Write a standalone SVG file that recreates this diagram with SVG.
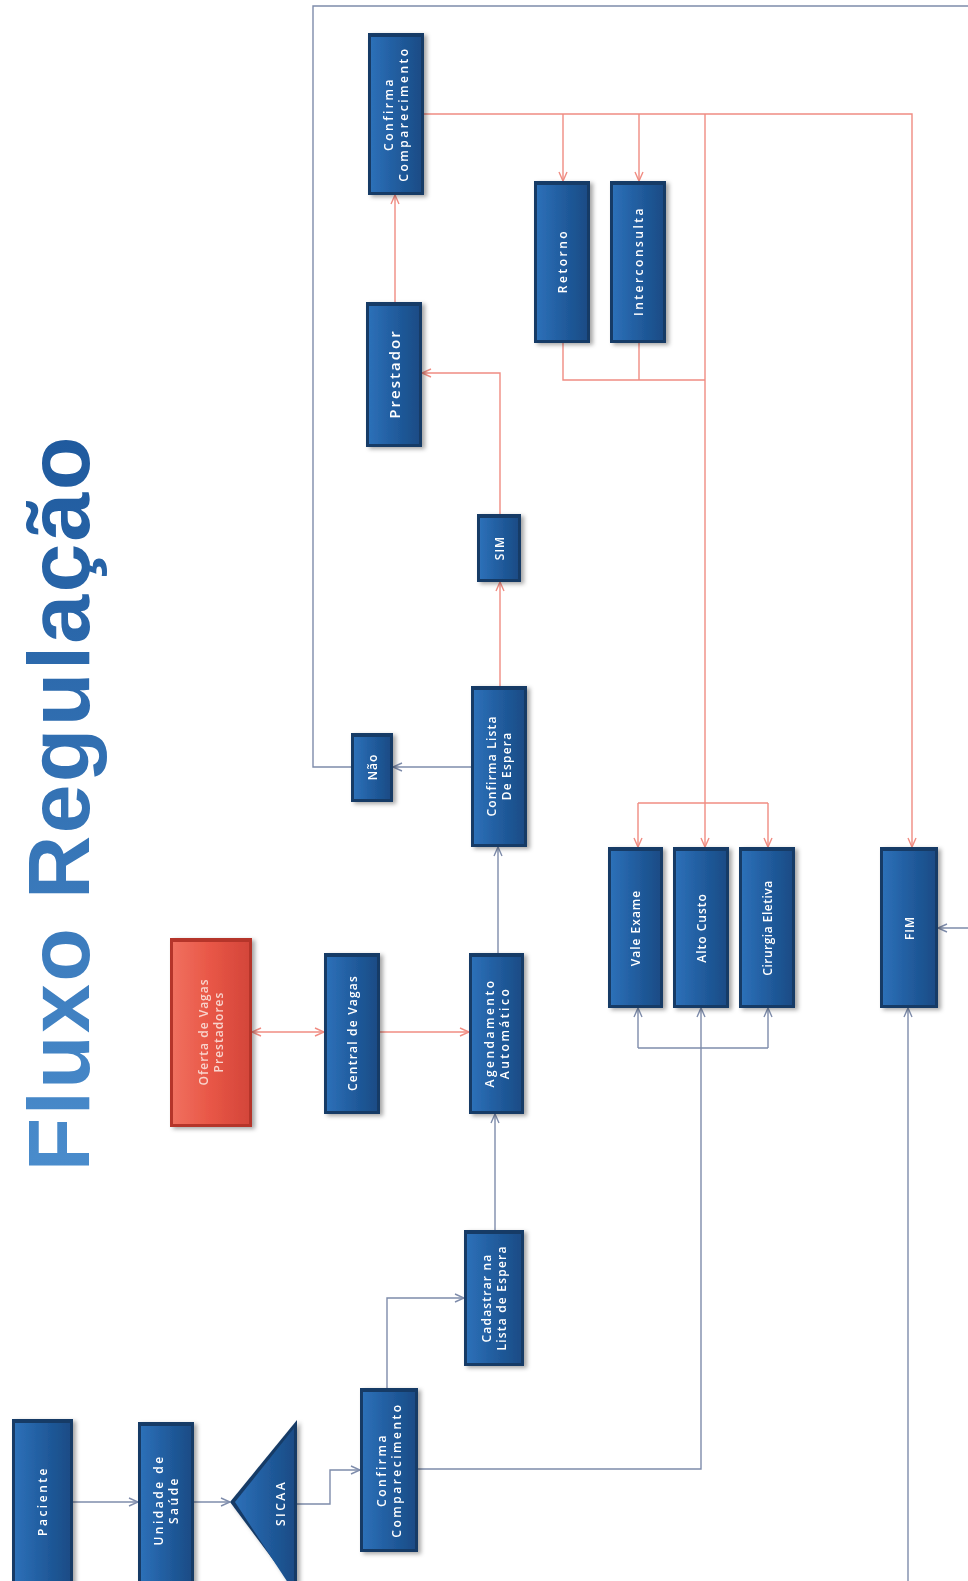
<svg xmlns="http://www.w3.org/2000/svg" width="968" height="1581" viewBox="0 0 968 1581">
<style>
.node rect.o{fill:#143a66}
.node rect.i{fill:url(#gBlue)}
.red rect.o{fill:#b5362a}
.red rect.i{fill:url(#gRed)}
.lbl{font-family:"Open Sans","Liberation Sans",sans-serif;font-size:12px;fill:#ffffff;letter-spacing:2.5px;text-anchor:middle;font-weight:600}
.red .lbl{fill:#f8d3cc}
.cb{fill:none;stroke:#7e8cab;stroke-width:1.4;marker-end:url(#aB)}
.cbn{fill:none;stroke:#7e8cab;stroke-width:1.4}
.cr{fill:none;stroke:#f08c82;stroke-width:1.4;marker-end:url(#aR)}
.crn{fill:none;stroke:#f08c82;stroke-width:1.4}
.title{font-family:"Liberation Sans","Open Sans",sans-serif;font-weight:bold;font-size:88px;fill:url(#gTitle);text-anchor:middle}
</style>
<defs>
<linearGradient id="gBlue" x1="0" y1="0" x2="1" y2="0">
<stop offset="0" stop-color="#2d70b8"/><stop offset="0.5" stop-color="#215d9f"/><stop offset="1" stop-color="#1a4c86"/>
</linearGradient>
<linearGradient id="gRed" x1="0" y1="0" x2="1" y2="0">
<stop offset="0" stop-color="#f0705f"/><stop offset="0.5" stop-color="#e85646"/><stop offset="1" stop-color="#d4463a"/>
</linearGradient>
<linearGradient id="gTitle" x1="0" y1="0" x2="1" y2="0">
<stop offset="0" stop-color="#4a8ccc"/><stop offset="1" stop-color="#1f5a9e"/>
</linearGradient>
<filter id="sh" x="-20%" y="-10%" width="150%" height="130%">
<feDropShadow dx="3" dy="2" stdDeviation="2" flood-color="#000" flood-opacity="0.35"/>
</filter>
<marker id="aB" viewBox="0 0 10 10" refX="10" refY="5" markerWidth="10" markerHeight="10" markerUnits="userSpaceOnUse" orient="auto-start-reverse">
<path d="M1,1 L10,5 L1,9" fill="none" stroke="#7e8cab" stroke-width="1.4"/>
</marker>
<marker id="aR" viewBox="0 0 10 10" refX="10" refY="5" markerWidth="10" markerHeight="10" markerUnits="userSpaceOnUse" orient="auto-start-reverse">
<path d="M1,1 L10,5 L1,9" fill="none" stroke="#f08c82" stroke-width="1.4"/>
</marker>
</defs>
<rect width="968" height="1581" fill="#ffffff"/>

<text class="title" transform="translate(89,804) rotate(-90)" textLength="735">Fluxo Regulação</text>

<g id="connectors">
<!-- blue -->
<path class="cb" d="M73,1502 H138"/>
<path class="cb" d="M194,1502 H230"/>
<path class="cb" d="M297,1504 H330 V1470 H360"/>
<path class="cb" d="M387,1388 V1298 H464"/>
<path class="cb" d="M418,1469 H701 V1008"/>
<path class="cbn" d="M638,1048 H768"/>
<path class="cb" d="M638,1048 V1008"/>
<path class="cb" d="M768,1048 V1008"/>
<path class="cb" d="M495,1230 V1114"/>
<path class="cb" d="M498,953 V847"/>
<path class="cb" d="M471,767 H393"/>
<path class="cb" d="M351,767 H313 V6 H975 V928 H938"/>
<path class="cb" d="M908,1600 V1008"/>
<!-- red -->
<path class="cr" style="marker-start:url(#aR)" d="M252,1032 H324"/>
<path class="cr" d="M380,1032 H469"/>
<path class="cr" d="M500,686 V582"/>
<path class="cr" d="M500,514 V373 H422"/>
<path class="cr" d="M395,302 V195"/>
<path class="cr" d="M424,114 H912 V847"/>
<path class="cr" d="M563,114 V181"/>
<path class="cr" d="M639,114 V181"/>
<path class="cr" d="M705,114 V847"/>
<path class="crn" d="M638,803 H768"/>
<path class="cr" d="M638,803 V847"/>
<path class="cr" d="M768,803 V847"/>
<path class="crn" d="M563,343 V380 H705"/>
<path class="crn" d="M639,343 V380"/>
</g>

<g id="paciente" class="node" filter="url(#sh)">
<rect class="o" x="12" y="1419" width="61" height="175"/>
<rect class="i" x="15" y="1423" width="55" height="175"/>
<text class="lbl" transform="translate(42.5,1501) rotate(-90)"><tspan x="0" y="4.5">Paciente</tspan></text>
</g>
<g id="unidade" class="node" filter="url(#sh)">
<rect class="o" x="138" y="1422" width="56" height="175"/>
<rect class="i" x="141" y="1426" width="50" height="175"/>
<text class="lbl" transform="translate(166,1500) rotate(-90)"><tspan x="0" y="-3">Unidade de</tspan><tspan x="0" y="12">Saúde</tspan></text>
</g>
<g id="sicaa" class="node" filter="url(#sh)">
<polygon points="230,1502 297,1420 297,1592" fill="#143a66"/>
<polygon points="235,1502 294,1428 294,1592" fill="url(#gBlue)"/>
<text class="lbl" transform="translate(280,1503) rotate(-90)"><tspan x="0" y="4.5">SICAA</tspan></text>
</g>
<g id="confirma-comparecimento-1" class="node" filter="url(#sh)">
<rect class="o" x="360" y="1388" width="58" height="164"/>
<rect class="i" x="363" y="1392" width="52" height="157"/>
<text class="lbl" transform="translate(389,1470) rotate(-90)"><tspan x="0" y="-3">Confirma</tspan><tspan x="0" y="12">Comparecimento</tspan></text>
</g>
<g id="cadastrar" class="node" filter="url(#sh)">
<rect class="o" x="464" y="1230" width="60" height="136"/>
<rect class="i" x="467" y="1234" width="54" height="129"/>
<text class="lbl" style="letter-spacing:1.2px" transform="translate(494,1298) rotate(-90)"><tspan x="0" y="-3">Cadastrar na</tspan><tspan x="0" y="12">Lista de Espera</tspan></text>
</g>
<g id="agendamento" class="node" filter="url(#sh)">
<rect class="o" x="469" y="953" width="55" height="161"/>
<rect class="i" x="472" y="957" width="49" height="154"/>
<text class="lbl" transform="translate(496.5,1033) rotate(-90)"><tspan x="0" y="-3">Agendamento</tspan><tspan x="0" y="12">Automático</tspan></text>
</g>
<g id="central" class="node" filter="url(#sh)">
<rect class="o" x="324" y="953" width="56" height="161"/>
<rect class="i" x="327" y="957" width="50" height="154"/>
<text class="lbl" style="letter-spacing:1.2px" transform="translate(352,1033) rotate(-90)"><tspan x="0" y="4.5">Central de Vagas</tspan></text>
</g>
<g id="oferta" class="node red" filter="url(#sh)">
<rect class="o" x="170" y="938" width="82" height="189"/>
<rect class="i" x="173" y="942" width="76" height="182"/>
<text class="lbl" style="letter-spacing:1px" transform="translate(211,1032) rotate(-90)"><tspan x="0" y="-3">Oferta de Vagas</tspan><tspan x="0" y="12">Prestadores</tspan></text>
</g>
<g id="confirma-lista" class="node" filter="url(#sh)">
<rect class="o" x="471" y="686" width="56" height="161"/>
<rect class="i" x="474" y="690" width="50" height="154"/>
<text class="lbl" style="letter-spacing:1.2px" transform="translate(499,766) rotate(-90)"><tspan x="0" y="-3">Confirma Lista</tspan><tspan x="0" y="12">De Espera</tspan></text>
</g>
<g id="nao" class="node" filter="url(#sh)">
<rect class="o" x="351" y="733" width="42" height="69"/>
<rect class="i" x="354" y="737" width="36" height="62"/>
<text class="lbl" style="letter-spacing:1px" transform="translate(372,767) rotate(-90)"><tspan x="0" y="4.5">Não</tspan></text>
</g>
<g id="sim" class="node" filter="url(#sh)">
<rect class="o" x="477" y="514" width="44" height="68"/>
<rect class="i" x="480" y="518" width="38" height="61"/>
<text class="lbl" style="letter-spacing:1px" transform="translate(499,548) rotate(-90)"><tspan x="0" y="4.5">SIM</tspan></text>
</g>
<g id="prestador" class="node" filter="url(#sh)">
<rect class="o" x="366" y="302" width="56" height="145"/>
<rect class="i" x="369" y="306" width="50" height="138"/>
<text class="lbl" style="font-size:15px;letter-spacing:2px" transform="translate(394,374) rotate(-90)"><tspan x="0" y="5.5">Prestador</tspan></text>
</g>
<g id="confirma-comparecimento-2" class="node" filter="url(#sh)">
<rect class="o" x="368" y="33" width="56" height="162"/>
<rect class="i" x="371" y="37" width="50" height="155"/>
<text class="lbl" transform="translate(396,114) rotate(-90)"><tspan x="0" y="-3">Confirma</tspan><tspan x="0" y="12">Comparecimento</tspan></text>
</g>
<g id="retorno" class="node" filter="url(#sh)">
<rect class="o" x="534" y="181" width="56" height="162"/>
<rect class="i" x="537" y="185" width="50" height="155"/>
<text class="lbl" transform="translate(562,261) rotate(-90)"><tspan x="0" y="4.5">Retorno</tspan></text>
</g>
<g id="interconsulta" class="node" filter="url(#sh)">
<rect class="o" x="610" y="181" width="56" height="162"/>
<rect class="i" x="613" y="185" width="50" height="155"/>
<text class="lbl" transform="translate(638,261) rotate(-90)"><tspan x="0" y="4.5">Interconsulta</tspan></text>
</g>
<g id="vale-exame" class="node" filter="url(#sh)">
<rect class="o" x="608" y="847" width="55" height="161"/>
<rect class="i" x="611" y="851" width="49" height="154"/>
<text class="lbl" style="letter-spacing:1px" transform="translate(635.5,928) rotate(-90)"><tspan x="0" y="4.5">Vale Exame</tspan></text>
</g>
<g id="alto-custo" class="node" filter="url(#sh)">
<rect class="o" x="673" y="847" width="56" height="161"/>
<rect class="i" x="676" y="851" width="50" height="154"/>
<text class="lbl" style="letter-spacing:1px" transform="translate(701,928) rotate(-90)"><tspan x="0" y="4.5">Alto Custo</tspan></text>
</g>
<g id="cirurgia-eletiva" class="node" filter="url(#sh)">
<rect class="o" x="739" y="847" width="56" height="161"/>
<rect class="i" x="742" y="851" width="50" height="154"/>
<text class="lbl" style="letter-spacing:0.5px" transform="translate(767,928) rotate(-90)"><tspan x="0" y="4.5">Cirurgia Eletiva</tspan></text>
</g>
<g id="fim" class="node" filter="url(#sh)">
<rect class="o" x="880" y="847" width="58" height="161"/>
<rect class="i" x="883" y="851" width="52" height="154"/>
<text class="lbl" style="letter-spacing:1px" transform="translate(909,928) rotate(-90)"><tspan x="0" y="4.5">FIM</tspan></text>
</g>
</svg>
